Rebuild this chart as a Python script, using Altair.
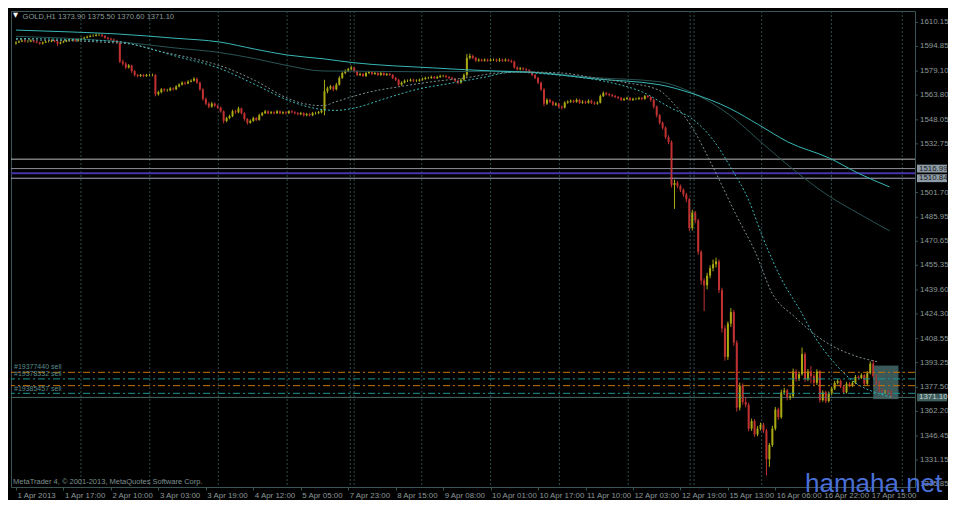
import altair as alt
import pandas as pd

# ------------------------------------------------------------------ data
closes = [
    1597.4, 1598.0, 1598.6, 1598.0, 1598.0, 1598.6, 1598.0, 1597.4, 1596.7, 1597.4,
    1598.0, 1598.0, 1598.6, 1598.0, 1596.7, 1597.4, 1598.0, 1598.6, 1598.6, 1599.2,
    1598.6, 1599.2, 1599.8, 1600.4, 1601.0, 1601.6, 1601.6, 1602.2, 1602.2, 1601.6,
    1600.4, 1599.8, 1599.2, 1598.6, 1597.4, 1585.2, 1583.9, 1581.5, 1582.7, 1579.1,
    1576.7, 1576.0, 1576.7, 1576.0, 1576.7, 1576.7, 1576.7, 1564.4, 1565.7, 1567.5,
    1566.9, 1566.9, 1568.1, 1567.5, 1569.3, 1570.5, 1571.8, 1571.2, 1572.4, 1573.0,
    1574.2, 1571.8, 1567.5, 1561.4, 1558.4, 1556.5, 1558.4, 1557.1, 1555.9, 1553.5,
    1547.4, 1549.2, 1550.4, 1553.5, 1552.9, 1555.3, 1552.3, 1548.6, 1546.2, 1547.4,
    1549.2, 1548.0, 1551.0, 1552.3, 1553.5, 1552.3, 1552.9, 1552.3, 1553.5, 1552.3,
    1552.9, 1552.3, 1553.5, 1552.9, 1552.3, 1551.7, 1552.3, 1551.0, 1551.7, 1551.0,
    1552.3, 1552.3, 1552.9, 1554.1, 1566.3, 1568.1, 1569.3, 1567.5, 1570.5, 1574.8,
    1577.9, 1579.1, 1580.3, 1581.5, 1579.1, 1576.7, 1577.3, 1576.0, 1577.9, 1578.5,
    1577.3, 1577.9, 1576.7, 1577.9, 1576.7, 1577.3, 1576.7, 1574.8, 1573.6, 1570.5,
    1571.8, 1573.0, 1573.0, 1573.6, 1573.0, 1573.0, 1573.6, 1574.2, 1574.8, 1574.8,
    1575.4, 1574.8, 1575.4, 1576.0, 1576.0, 1575.4, 1574.8, 1574.2, 1573.0, 1571.8,
    1573.6, 1576.7, 1587.6, 1588.8, 1587.6, 1585.8, 1586.4, 1585.8, 1586.4, 1585.8,
    1586.4, 1586.4, 1585.8, 1586.4, 1585.8, 1586.4, 1585.8, 1585.2, 1581.5, 1580.3,
    1580.9, 1580.3, 1579.7, 1578.5, 1576.7, 1574.8, 1571.8, 1567.5, 1558.4, 1560.8,
    1559.6, 1557.7, 1558.4, 1556.5, 1555.9, 1559.0, 1559.6, 1560.2, 1559.6, 1560.8,
    1559.0, 1559.6, 1559.0, 1560.2, 1559.0, 1558.4, 1559.0, 1563.2, 1565.1, 1564.4,
    1563.8, 1563.2, 1562.6, 1562.0, 1560.8, 1561.4, 1562.0, 1560.8, 1561.4, 1561.4,
    1562.0, 1561.4, 1563.2, 1562.6, 1560.8, 1556.5, 1551.0, 1546.2, 1543.1, 1537.0,
    1534.0, 1506.6, 1507.8, 1505.9, 1503.5, 1500.5, 1497.4, 1479.1, 1488.9, 1484.0,
    1463.9, 1445.6, 1442.6, 1448.7, 1453.5, 1456.0, 1457.8, 1439.5, 1415.1, 1396.9,
    1418.2, 1425.5, 1406.0, 1364.6, 1378.6, 1368.2, 1366.4, 1351.2, 1356.0, 1347.5,
    1351.2, 1353.6, 1349.9, 1331.7, 1340.8, 1351.2, 1363.4, 1358.5, 1374.3, 1375.5,
    1370.7, 1371.9, 1387.7, 1382.8, 1385.9, 1398.7, 1382.8, 1387.7, 1384.7, 1380.4,
    1387.7, 1369.4, 1374.3, 1368.8, 1373.7, 1376.7, 1380.4, 1381.6, 1378.0, 1374.3,
    1379.8, 1378.6, 1380.4, 1384.1, 1383.5, 1385.3, 1379.8, 1386.5, 1392.6, 1384.7,
    1380.4, 1375.5, 1374.3, 1374.9, 1373.9, 1371.1,
]
highs = [
    1598.2, 1598.7, 1599.3, 1599.2, 1598.8, 1599.4, 1599.1, 1598.6, 1597.9, 1598.0,
    1598.7, 1598.9, 1599.3, 1599.2, 1598.4, 1598.0, 1598.6, 1599.2, 1599.4, 1599.9,
    1599.8, 1599.9, 1600.5, 1601.1, 1601.8, 1602.4, 1602.6, 1603.2, 1603.0, 1602.9,
    1602.1, 1600.9, 1600.4, 1599.9, 1599.1, 1597.9, 1586.4, 1584.8, 1583.6, 1583.2,
    1579.8, 1577.4, 1577.3, 1577.2, 1577.3, 1577.4, 1577.5, 1577.2, 1566.6, 1568.3,
    1568.2, 1567.8, 1568.9, 1568.8, 1570.1, 1571.4, 1572.6, 1572.5, 1573.3, 1573.9,
    1575.3, 1575.0, 1572.4, 1568.2, 1562.3, 1559.3, 1559.5, 1559.1, 1557.8, 1556.5,
    1554.1, 1550.0, 1551.3, 1554.5, 1554.3, 1556.5, 1555.9, 1552.9, 1549.2, 1548.3,
    1550.1, 1549.9, 1551.9, 1553.1, 1554.4, 1554.1, 1553.7, 1553.6, 1554.3, 1554.1,
    1553.6, 1553.5, 1554.2, 1554.2, 1553.6, 1553.0, 1553.1, 1552.9, 1552.5, 1552.4,
    1553.1, 1553.2, 1553.8, 1555.0, 1573.6, 1569.2, 1570.3, 1570.0, 1571.6, 1575.9,
    1579.0, 1580.2, 1581.2, 1582.7, 1582.0, 1579.7, 1578.2, 1578.0, 1578.7, 1579.3,
    1579.1, 1578.6, 1578.5, 1578.7, 1578.4, 1578.0, 1577.9, 1577.3, 1575.4, 1574.2,
    1572.6, 1573.8, 1573.8, 1574.4, 1574.2, 1573.9, 1574.4, 1575.0, 1575.6, 1575.6,
    1576.3, 1576.1, 1576.2, 1576.9, 1576.8, 1576.7, 1576.0, 1575.5, 1574.8, 1573.7,
    1574.5, 1577.6, 1590.0, 1590.3, 1589.6, 1588.2, 1587.3, 1587.0, 1587.2, 1587.1,
    1587.3, 1587.2, 1587.1, 1587.4, 1587.0, 1587.2, 1587.0, 1586.5, 1585.8, 1582.2,
    1581.7, 1581.6, 1581.0, 1580.3, 1579.1, 1577.3, 1575.5, 1572.4, 1568.1, 1561.8,
    1561.5, 1560.3, 1559.3, 1559.0, 1557.2, 1559.9, 1560.5, 1561.1, 1560.9, 1561.7,
    1561.4, 1560.6, 1560.3, 1561.1, 1560.9, 1559.7, 1559.9, 1564.2, 1566.2, 1565.9,
    1565.1, 1564.6, 1564.0, 1563.3, 1562.7, 1562.2, 1562.8, 1562.6, 1562.2, 1562.2,
    1562.8, 1562.7, 1564.0, 1563.9, 1563.1, 1561.4, 1557.2, 1551.8, 1547.0, 1543.9,
    1538.2, 1535.0, 1510.0, 1509.0, 1506.8, 1504.4, 1501.5, 1498.3, 1490.8, 1490.0,
    1485.0, 1465.0, 1447.0, 1450.5, 1455.3, 1459.0, 1460.2, 1459.0, 1441.0, 1417.0,
    1419.5, 1428.0, 1426.8, 1407.5, 1380.5, 1380.0, 1371.0, 1367.8, 1357.6, 1357.2,
    1352.8, 1355.0, 1354.8, 1351.0, 1342.0, 1353.0, 1365.0, 1364.6, 1376.0, 1377.2,
    1376.5, 1373.2, 1389.5, 1389.0, 1387.5, 1402.9, 1399.8, 1389.2, 1391.0, 1386.0,
    1389.0, 1388.5, 1375.6, 1375.4, 1374.9, 1378.0, 1381.6, 1382.8, 1382.5, 1378.9,
    1381.0, 1380.8, 1381.5, 1385.4, 1385.0, 1386.5, 1386.0, 1387.8, 1394.0, 1395.0,
    1385.8, 1381.5, 1376.8, 1375.9, 1376.0, 1375.5,
]
lows = [
    1596.0, 1597.0, 1597.6, 1597.4, 1597.3, 1597.6, 1597.2, 1596.8, 1595.9, 1596.1,
    1597.0, 1597.3, 1597.6, 1597.5, 1595.2, 1596.2, 1597.0, 1597.6, 1598.0, 1598.2,
    1598.0, 1598.1, 1598.8, 1599.4, 1600.0, 1600.6, 1600.9, 1601.2, 1601.4, 1600.9,
    1599.8, 1599.1, 1598.5, 1597.9, 1596.8, 1584.3, 1582.6, 1580.4, 1580.8, 1578.0,
    1575.6, 1575.2, 1575.4, 1575.3, 1575.5, 1575.9, 1575.8, 1563.0, 1563.5, 1565.0,
    1566.1, 1566.0, 1566.3, 1566.8, 1567.0, 1568.8, 1570.0, 1570.4, 1570.8, 1571.9,
    1572.5, 1571.0, 1566.6, 1560.3, 1557.4, 1555.4, 1555.8, 1556.3, 1555.0, 1552.6,
    1545.8, 1546.5, 1548.5, 1549.8, 1552.0, 1552.3, 1551.5, 1547.5, 1545.0, 1545.6,
    1546.8, 1547.2, 1547.5, 1550.4, 1551.8, 1551.6, 1551.7, 1551.6, 1551.8, 1551.7,
    1551.6, 1551.5, 1551.8, 1552.2, 1551.5, 1551.0, 1551.0, 1550.2, 1550.3, 1550.2,
    1550.4, 1551.4, 1551.7, 1552.2, 1551.0, 1565.0, 1567.2, 1566.4, 1566.8, 1569.9,
    1574.1, 1577.2, 1578.5, 1579.7, 1578.3, 1575.9, 1576.0, 1575.3, 1575.4, 1577.2,
    1576.6, 1576.7, 1576.0, 1576.1, 1576.0, 1576.1, 1576.0, 1574.0, 1572.8, 1569.4,
    1569.8, 1571.2, 1572.2, 1572.4, 1572.3, 1572.2, 1572.4, 1573.0, 1573.6, 1574.0,
    1574.2, 1574.1, 1574.1, 1574.8, 1575.2, 1574.7, 1574.0, 1573.4, 1572.2, 1570.7,
    1571.0, 1573.0, 1575.5, 1586.6, 1586.7, 1585.0, 1585.1, 1585.1, 1585.2, 1585.0,
    1585.2, 1585.6, 1585.0, 1585.1, 1585.0, 1585.2, 1585.0, 1584.3, 1580.6, 1579.5,
    1579.6, 1579.5, 1578.9, 1577.7, 1575.9, 1574.0, 1570.8, 1566.4, 1556.8, 1557.6,
    1558.7, 1556.9, 1556.9, 1555.5, 1554.7, 1555.3, 1558.3, 1558.9, 1558.8, 1559.0,
    1558.2, 1558.3, 1558.2, 1558.4, 1558.2, 1557.6, 1557.7, 1558.5, 1562.6, 1563.6,
    1563.0, 1562.5, 1561.9, 1561.2, 1560.0, 1560.1, 1560.8, 1560.0, 1560.1, 1560.6,
    1560.8, 1560.6, 1560.9, 1561.9, 1559.6, 1555.3, 1549.6, 1545.0, 1541.8, 1535.8,
    1532.5, 1505.0, 1491.3, 1504.6, 1502.0, 1499.0, 1495.6, 1477.2, 1477.5, 1482.2,
    1462.0, 1443.0, 1426.1, 1440.0, 1447.0, 1451.5, 1454.0, 1437.6, 1412.5, 1394.5,
    1395.0, 1416.0, 1404.0, 1362.0, 1362.8, 1366.5, 1364.8, 1349.5, 1349.8, 1346.0,
    1346.4, 1350.0, 1348.5, 1321.3, 1326.8, 1339.5, 1350.0, 1356.8, 1357.5, 1372.8,
    1369.2, 1369.5, 1370.8, 1381.2, 1381.6, 1385.0, 1381.0, 1381.5, 1380.0, 1378.8,
    1379.0, 1367.8, 1368.3, 1367.5, 1367.9, 1372.6, 1375.8, 1379.4, 1377.0, 1373.2,
    1373.6, 1377.5, 1377.8, 1379.6, 1382.4, 1382.8, 1378.6, 1379.0, 1385.8, 1383.5,
    1379.0, 1374.2, 1373.0, 1373.3, 1372.6, 1370.6,
]
first_open = 1596.8

# moving averages (bar index, price)
ma_slow_bar = [0, 18.6, 34.3, 53.6, 68.6, 80.7, 91.4, 103.5, 113.3, 140.4, 162.3, 173, 195,
               216.8, 227.6, 240.7, 250.4, 260.2, 274.3, 284.1, 294.5]
ma_slow_val = [1605.3, 1604.1, 1602.8, 1600.1, 1597.7, 1593.1, 1589.4, 1587.0, 1584.6, 1581.2,
               1579.1, 1578.5, 1574.2, 1570.5, 1565.1, 1555.3, 1544.9, 1534.0, 1523.6, 1513.9, 1505.3]
ma_mid_bar = [0, 34, 53.6, 68.6, 80.7, 91.4, 103.5, 113.3, 140.4, 162.3, 173, 195, 216.8, 227.6,
              240.7, 251.1, 262.5, 274.3, 284.1, 294.5]
ma_mid_val = [1601.3, 1598.0, 1593.9, 1591.0, 1587.0, 1582.7, 1579.2, 1579.1, 1578.7, 1579.1,
              1578.7, 1575.0, 1572.4, 1565.7, 1551.0, 1534.0, 1515.7, 1499.2, 1488.3, 1477.3]
ma_fast_bar = [0, 34, 42.4, 53.6, 68.6, 80.7, 91.4, 97, 107.8, 113.3, 124.1, 135.2, 146, 156.7,
               167.8, 178.6, 189.4, 200.5, 211.3, 221.1, 227.6, 234.8, 241.0, 247.3, 251.4, 258,
               264.5, 269.1, 275.6, 282.1, 290.6, 295.2]
ma_fast_val = [1600.0, 1598.0, 1594.9, 1588.8, 1580.9, 1570.5, 1560.8, 1557.1, 1554.1, 1555.3,
               1561.4, 1567.5, 1571.2, 1574.8, 1578.5, 1577.3, 1575.4, 1571.8, 1565.7, 1555.3,
               1549.2, 1535.8, 1517.6, 1495.6, 1474.9, 1446.8, 1426.1, 1410.3, 1393.8, 1381.6,
               1373.7, 1371.3]
ma_gray_bar = [0, 37.2, 48, 60.1, 68.6, 80.7, 91.4, 97, 103.5, 107.8, 118.9, 129.6, 140.4, 151.5,
               162.3, 173, 184.2, 195, 205.7, 216.8, 221.7, 227.6, 235.1, 242.9, 249.5,
               254.7, 262.5, 273.3, 282.1, 290.6]
ma_gray_val = [1599.2, 1596.7, 1591.9, 1587.0, 1582.7, 1573.0, 1562.0, 1558.4, 1557.1, 1559.6,
               1565.7, 1569.3, 1572.4, 1574.8, 1577.9, 1578.5, 1577.9, 1574.8, 1571.8, 1566.9,
               1558.4, 1544.3, 1517.5, 1487.0, 1462.7, 1438.3, 1422.5, 1406.0, 1398.1, 1393.8]

x_label_bars = [0, 16, 32, 48, 64, 80, 96, 112, 128, 144, 160, 176, 192, 208, 224, 240, 256, 272, 288]
x_label_text = ["1 Apr 2013", "1 Apr 17:00", "2 Apr 10:00", "3 Apr 03:00", "3 Apr 19:00",
                "4 Apr 12:00", "5 Apr 05:00", "7 Apr 23:00", "8 Apr 15:00", "9 Apr 08:00",
                "10 Apr 01:00", "10 Apr 17:00", "11 Apr 10:00", "12 Apr 03:00", "12 Apr 19:00",
                "15 Apr 13:00", "16 Apr 06:00", "16 Apr 22:00", "17 Apr 15:00"]
y_tick_values = [1610.15, 1594.85, 1579.10, 1563.80, 1548.05, 1532.75, 1501.70, 1485.95,
                 1470.65, 1455.35, 1439.60, 1424.30, 1408.55, 1393.25, 1377.50, 1362.20,
                 1346.45, 1331.15, 1315.85]
day_breaks = [21.9, 45.1, 68.2, 91.4, 112.7, 114.0, 136.8, 160.0, 183.2, 206.4, 227.3, 228.6,
              251.4, 274.9, 298.8]

level_prices = [1523.0, 1516.99, 1514.0, 1510.84]
level_colors = ["#b8b8b8", "#8e8e98", "#4634a8", "#a6a6c0"]
level_widths = [1, 1, 2, 1]

order_prices = [1387.1, 1382.9, 1378.6, 1373.7]
order_colors = ["#c47400", "#1a9494", "#c47400", "#1a9494"]
order_labels = ["#19377440 sell", "#19378332 sell", "#19385457 sell"]
order_label_prices = [1388.9, 1384.6, 1374.9]

bid_price = 1371.10
box_prices = [1516.99, 1510.84, 1371.10]
box_texts = ["1516.99", "1510.84", "1371.10"]
box_fill = ["#8e9ca8", "#8e9ca8", "#3e5e5e"]
box_ink = ["#1a1a1a", "#1a1a1a", "#c8d2d2"]

rect_bars = [289.0, 297.5]
rect_prices = [1370.0, 1391.4]

title_text = "GOLD,H1  1373.90 1375.50 1370.60 1371.10"
footer_text = "MetaTrader 4, \u00a9 2001-2013, MetaQuotes Software Corp."
watermark = "hamaha.net"

# ------------------------------------------------------------------ styling
W, H = 904, 476
FONT = "Liberation Sans"
AXC = "#8c9898"
FRAME = "#3a5454"
UP = "#aaaa14"
DOWN = "#c23232"

xs = alt.Scale(domain=[0, 301.4], nice=False, zero=False)
ys = alt.Scale(domain=[1313.98, 1617.46], nice=False, zero=False)


def X(field, **kw):
    return alt.X(field, scale=xs, title=None, **kw)


def Y(field):
    return alt.Y(field, scale=ys, title=None, axis=None)


assert len(closes) == len(highs) == len(lows)
opens = [first_open] + closes[:-1]
candles = pd.DataFrame({"bar": list(range(len(closes))), "open": opens, "high": highs,
                        "low": lows, "close": closes})
candles["dir"] = ["up" if c >= o else "down" for o, c in zip(opens, closes)]
dir_color = alt.Color("dir:N", scale=alt.Scale(domain=["up", "down"], range=[UP, DOWN]), legend=None)

label_expr = "[" + ",".join("'" + t + "'" for t in x_label_text) + "][round(datum.value / 16)]"
x_axis = alt.Axis(orient="bottom", values=x_label_bars, labelExpr=label_expr, labelAlign="left",
                  labelBaseline="top", labelPadding=1, labelOffset=1, tickSize=3,
                  labelOverlap=False, labelFlush=False, labelBound=False)

# ------------------------------------------------------------------ layers
bodies = alt.Chart(candles).mark_bar(size=2, clip=True).encode(
    x=X("bar:Q", axis=x_axis), y=Y("open:Q"), y2="close:Q", color=dir_color)

wicks = alt.Chart(candles).mark_rule(strokeWidth=1, clip=True).encode(
    x=X("bar:Q"), y=Y("low:Q"), y2="high:Q", color=dir_color)

seps = alt.Chart(pd.DataFrame({"bar": day_breaks})).mark_rule(
    color="#2c4c4c", strokeDash=[2, 2], strokeWidth=1).encode(x=X("bar:Q"))

levels = alt.Chart(pd.DataFrame({"p": level_prices, "c": level_colors, "w": level_widths})).mark_rule().encode(
    y=Y("p:Q"), color=alt.Color("c:N", scale=None), strokeWidth=alt.StrokeWidth("w:Q", scale=None))

rect = alt.Chart(pd.DataFrame({"b0": [rect_bars[0]], "b1": [rect_bars[1]],
                               "p0": [rect_prices[0]], "p1": [rect_prices[1]]})).mark_rect(
    color="#3b5959").encode(x=X("b0:Q"), x2="b1:Q", y=Y("p0:Q"), y2="p1:Q")

bid = alt.Chart(pd.DataFrame({"p": [bid_price]})).mark_rule(color="#4a6868", strokeWidth=1).encode(
    y=Y("p:Q"))


def ma_layer(bars, vals, color, dash=None):
    df = pd.DataFrame({"bar": bars, "v": vals})
    kw = dict(color=color, strokeWidth=1, clip=True, interpolate="monotone")
    if dash:
        kw["strokeDash"] = dash
    return alt.Chart(df).mark_line(**kw).encode(x=X("bar:Q"), y=Y("v:Q"))


ma1 = ma_layer(ma_slow_bar, ma_slow_val, "#38b6b6")
ma2 = ma_layer(ma_mid_bar, ma_mid_val, "#285454")
ma3 = ma_layer(ma_fast_bar, ma_fast_val, "#3cb8b8", [2, 2])
ma4 = ma_layer(ma_gray_bar, ma_gray_val, "#7d9090", [2, 2])

orders = alt.Chart(pd.DataFrame({"p": order_prices, "c": order_colors})).mark_rule(
    strokeDash=[7, 3, 2, 3], strokeWidth=1).encode(y=Y("p:Q"), color=alt.Color("c:N", scale=None))

order_text = alt.Chart(pd.DataFrame({"t": order_labels, "p": order_label_prices})).mark_text(
    align="left", baseline="alphabetic", font=FONT, fontSize=7, color="#5a8c8c").encode(
    x=alt.value(3), y=Y("p:Q"), text="t:N")

# right-hand price scale (ticks + labels)
yticks_df = pd.DataFrame({"p": y_tick_values,
                          "t": ["%.2f" % v for v in y_tick_values]})
y_ticks = alt.Chart(yticks_df).mark_rule(color=FRAME, strokeWidth=1).encode(
    x=alt.value(W), x2=alt.value(W + 3), y=Y("p:Q"))
y_labels = alt.Chart(yticks_df).mark_text(
    align="left", baseline="middle", font=FONT, fontSize=7.9, color=AXC).encode(
    x=alt.value(W + 5), y=Y("p:Q"), text="t:N")

box_df = pd.DataFrame({"p": box_prices, "t": box_texts, "f": box_fill, "k": box_ink})
box_df["lo"] = box_df["p"] - 2.5
box_df["hi"] = box_df["p"] + 2.5
boxes = alt.Chart(box_df).mark_rect().encode(
    x=alt.value(W + 2), x2=alt.value(W + 32),
    y=Y("lo:Q"), y2="hi:Q", color=alt.Color("f:N", scale=None))
box_text = alt.Chart(box_df).mark_text(align="left", baseline="middle", font=FONT, fontSize=7.9).encode(
    x=alt.value(W + 4), y=Y("p:Q"), text="t:N", color=alt.Color("k:N", scale=None))

tri = alt.Chart(pd.DataFrame({"t": ["\u25bc"]})).mark_text(
    align="left", baseline="middle", font="DejaVu Sans", fontSize=6.5, color="#ffffff").encode(
    x=alt.value(2), y=alt.value(4), text="t:N")
title = alt.Chart(pd.DataFrame({"t": [title_text]})).mark_text(
    align="left", baseline="alphabetic", font=FONT, fontSize=7.6, color="#8a9a9a").encode(
    x=alt.value(11.5), y=alt.value(7.8), text="t:N")
footer = alt.Chart(pd.DataFrame({"t": [footer_text]})).mark_text(
    align="left", baseline="alphabetic", font=FONT, fontSize=7.5, color="#7f8f8f").encode(
    x=alt.value(2), y=alt.value(472.5), text="t:N")
wm = alt.Chart(pd.DataFrame({"t": [watermark]})).mark_text(
    align="left", baseline="alphabetic", font=FONT, fontSize=26, color="#4a6fd6").encode(
    x=alt.value(794), y=alt.value(481), text="t:N")

chart = alt.layer(
    bodies, seps, levels, rect, bid, wicks, ma2, ma1, ma4, ma3, orders, order_text,
    y_ticks, y_labels, boxes, box_text, tri, title, footer, wm
).properties(
    width=W, height=H,
    padding={"left": 3, "top": 3, "right": 33, "bottom": 13},
    autosize=alt.AutoSizeParams(type="none"),
    background="#000000",
).configure_view(
    stroke=FRAME, strokeWidth=1
).configure_axis(
    grid=False, tickColor=FRAME, domainColor=FRAME, labelColor=AXC, labelFont=FONT,
    labelFontSize=7.9, titleFontSize=0, labelOverlap=False, labelFlush=False, labelBound=False
)

chart.save("out.html", embed_options={"renderer": "svg", "actions": False})
